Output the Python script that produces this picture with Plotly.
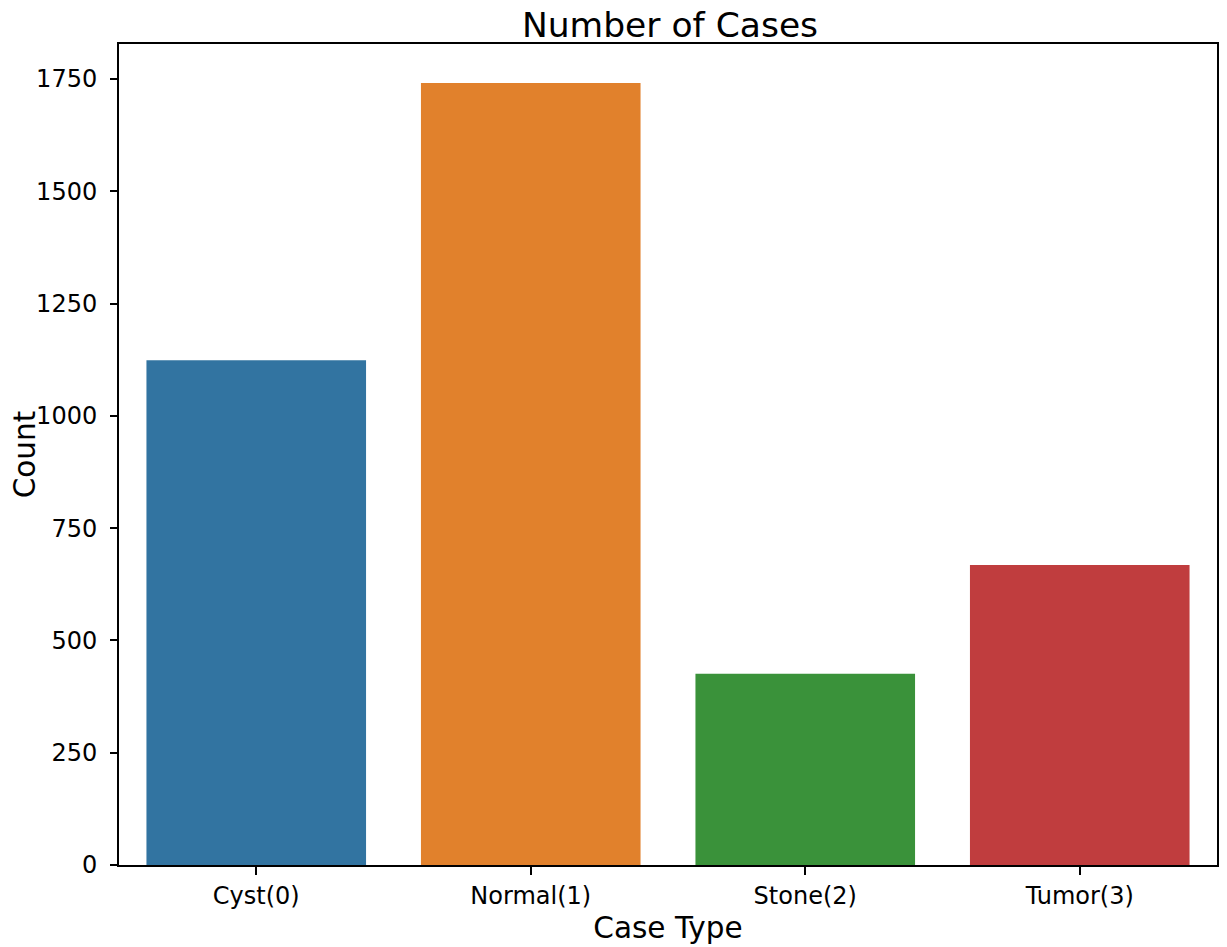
import plotly.graph_objects as go

categories = ["Cyst(0)", "Normal(1)", "Stone(2)", "Tumor(3)"]
counts = [1124, 1741, 426, 668]
colors = ["#3274a1", "#e1812c", "#3a923a", "#c03d3e"]
y_ticks = [0, 250, 500, 750, 1000, 1250, 1500, 1750]

font = "DejaVu Sans"

fig = go.Figure(
    go.Bar(
        x=categories,
        y=counts,
        marker=dict(color=colors, line=dict(width=0)),
        width=0.8,
    )
)

fig.update_layout(
    width=1227,
    height=947,
    margin=dict(l=111, r=18, t=36, b=90),
    paper_bgcolor="white",
    plot_bgcolor="white",
    font=dict(family=font, color="black", size=24),
    title=dict(
        text="Number of Cases",
        x=662 / 1227,
        xanchor="center",
        y=1 - 17 / 947,
        yanchor="middle",
        yref="container",
        font=dict(size=34.5, family=font, color="black"),
    ),
    showlegend=False,
    bargap=0.2,
)

fig.update_xaxes(
    range=[-0.5, 3.5],
    automargin=False,
    showline=True,
    linecolor="black",
    linewidth=2,
    mirror=True,
    ticks="outside",
    ticklen=8,
    tickwidth=2,
    tickcolor="black",
    tickfont=dict(size=24, family=font),
    showgrid=False,
    title=dict(text="Case Type", font=dict(size=29.5, family=font), standoff=9),
)

fig.update_yaxes(
    range=[0, 1828],
    automargin=False,
    tickvals=y_ticks,
    showline=True,
    linecolor="black",
    linewidth=2,
    mirror=True,
    ticks="outside",
    ticklen=7,
    tickwidth=2,
    tickcolor="black",
    tickfont=dict(size=24, family=font),
    ticklabelstandoff=8,
    showgrid=False,
    zeroline=False,
    title=dict(text="Count", font=dict(size=29.5, family=font), standoff=8),
)

fig.write_html("out.html")
